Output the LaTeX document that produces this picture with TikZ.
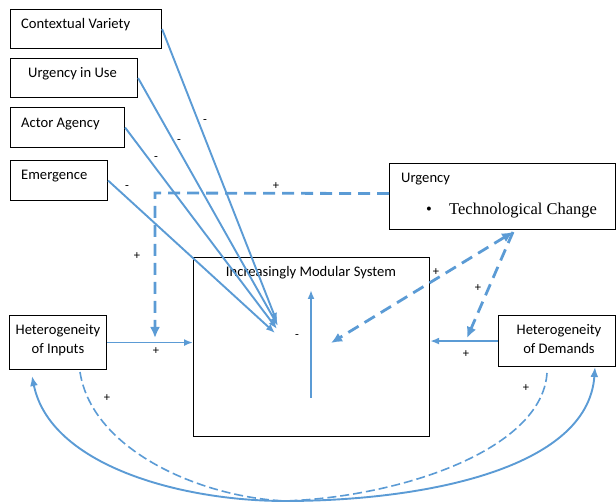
\documentclass[tikz,border=0pt]{standalone}
\usepackage{fontspec}
\setmainfont{Carlito}
\newfontfamily\serifface{Liberation Serif}
\usetikzlibrary{arrows.meta}
\definecolor{linkblue}{RGB}{91,155,213}

\begin{document}
\begin{tikzpicture}[x=1pt,y=-1pt,
  box/.style={draw=black, line width=1.1pt, rectangle, inner sep=0pt, anchor=north west},
  lbl/.style={font=\fontsize{14.6}{17}\selectfont, inner sep=0pt},
  sign/.style={font=\fontsize{12.5}{14}\selectfont, inner sep=0pt},
  tip/.style={-{Latex[length=9pt,width=7pt]}},
  link/.style={draw=linkblue, line width=1.9pt, tip},
  feed/.style={draw=linkblue, line width=2.8pt, dash pattern=on 12pt off 7pt},
  bigtip/.style={-{Latex[length=11pt,width=10pt]}},
  loopline/.style={draw=linkblue, line width=1.6pt, dash pattern=on 9pt off 4pt},
]
\useasboundingbox (0,0) rectangle (616,502);

% boxes
\node[box, minimum width=151pt, minimum height=39pt] (cv) at (10,9) {};
\node[box, minimum width=127pt, minimum height=39pt] (uiu) at (10,58) {};
\node[box, minimum width=114pt, minimum height=40pt] (aa) at (10,107) {};
\node[box, minimum width=97pt, minimum height=40pt] (em) at (10,160) {};
\node[box, minimum width=226pt, minimum height=66pt] (urg) at (389,163) {};
\node[box, minimum width=236pt, minimum height=179pt] (sys) at (193,257) {};
\node[box, minimum width=97pt, minimum height=54pt] (hin) at (9,315) {};
\node[box, minimum width=117pt, minimum height=51pt] (hdem) at (498,315) {};

% box texts
\node[lbl, anchor=base west] (cvt) at (21,29) {Contextual Variety};
\node[lbl, anchor=base west] (uiut) at (28,78) {Urgency in Use};
\node[lbl, anchor=base west] (aat) at (21,128) {Actor Agency};
\node[lbl, anchor=base west] (emt) at (21,180) {Emergence};
\node[lbl, anchor=base west] (urgt) at (401,183) {Urgency};
\node[anchor=base, inner sep=0pt, font=\serifface\fontsize{16.5}{19}\selectfont] (bul) at (429,215) {\textbullet};
\node[anchor=base west, inner sep=0pt, font=\serifface\fontsize{16.5}{19}\selectfont] (tct) at (449,215) {Technological Change};
\node[lbl, anchor=base] (syst) at (311,277) {Increasingly Modular System};
\node[lbl, anchor=base] (hina) at (58,335) {Heterogeneity};
\node[lbl, anchor=base] (hinb) at (58,354) {of Inputs};
\node[lbl, anchor=base] (hdema) at (559,335) {Heterogeneity};
\node[lbl, anchor=base] (hdemb) at (559,354) {of Demands};

% inner end points
\coordinate (tcv) at (277,322);
\coordinate (tuiu) at (278,326);
\coordinate (taa) at (277,329);
\coordinate (tem) at (275,333);
\coordinate (bend) at (155,193);
\coordinate (fin) at (155,338);
\coordinate (vb) at (311,398);
\coordinate (vt) at (311,290);
\coordinate (uo) at (513,232);
\coordinate (sin) at (331,343);
\coordinate (dtip) at (467,338);
\coordinate (la) at (32,376);
\coordinate (ra) at (595,367);
\coordinate (lo) at (285,501);
\coordinate (ld) at (80,372);
\coordinate (rd) at (547,373);

% negative links into the system
\draw[link] (cv.east) -- (tcv);
\draw[link] (uiu.east) -- (tuiu);
\draw[link] (aa.east) -- (taa);
\draw[link] (em.east) -- (tem);

% urgency feeding inputs
\draw[feed, bigtip] ([yshift=3pt]urg.west) -- (bend) -- (fin);

% heterogeneity into the system
\draw[link] (hin.east) -- (sys.west |- hin.east);
\draw[link] (hdem.west) -- (sys.east |- hdem.west);

% modularity rising
\draw[link] (vb) -- (vt);

% urgency links
\draw[feed, {Latex[length=11pt,width=10pt]}-{Latex[length=11pt,width=10pt]}] (uo) -- (sin);
\draw[feed, bigtip] (uo) -- (dtip);

% lower loop between inputs and demands
\draw[draw=linkblue, line width=1.9pt, {Latex[length=10pt,width=8pt]}-{Latex[length=10pt,width=8pt]}]
  (la) .. controls (50,465) and (180,501) .. (lo) .. controls (420,501) and (588,470) .. (ra);
\draw[loopline] (ld) .. controls (92,450) and (200,497) .. (lo);
\draw[loopline] (rd) .. controls (542,450) and (400,497) .. (lo);

% polarity signs
\node[sign] (m1) at (205,122) {-};
\node[sign] (m2) at (179,142) {-};
\node[sign] (m3) at (156,159) {-};
\node[sign] (m4) at (127,188) {-};
\node[sign] (m5) at (297,337) {-};
\node[sign] (p1) at (276,186) {+};
\node[sign] (p2) at (137,256) {+};
\node[sign] (p3) at (156,351) {+};
\node[sign] (p4) at (436,272) {+};
\node[sign] (p5) at (478,288) {+};
\node[sign] (p6) at (466,354) {+};
\node[sign] (p7) at (107,398) {+};
\node[sign] (p8) at (526,388) {+};
\end{tikzpicture}
\end{document}
